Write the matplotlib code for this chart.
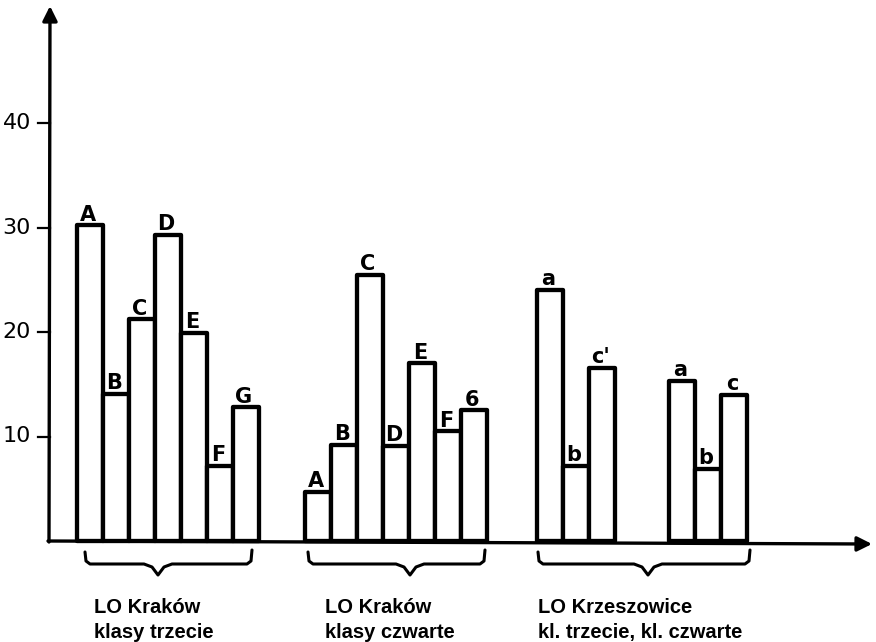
import matplotlib.pyplot as plt
import numpy as np

# wartości słupków
litery_1 = ['A', 'B', 'C', 'D', 'E', 'F', 'G']
krakow_trzecie = [30.2, 14.1, 21.2, 29.3, 19.9, 7.2, 12.8]

litery_2 = ['A', 'B', 'C', 'D', 'E', 'F', '6']
krakow_czwarte = [4.7, 9.2, 25.5, 9.1, 17.0, 10.5, 12.5]

litery_3a = ['a', 'b', "c'"]
krzeszowice_trzecie = [24.0, 7.2, 16.6]
litery_3b = ['a', 'b', 'c']
krzeszowice_czwarte = [15.3, 6.9, 14.0]

podpisy = [('LO Kraków', 'klasy trzecie'),
           ('LO Kraków', 'klasy czwarte'),
           ('LO Krzeszowice', 'kl. trzecie, kl. czwarte')]
yticks = [10, 20, 30, 40]

# geometria rysunku (piksele)
W, H = 876, 642
Y0 = 541          # wiersz piksela dla wartości 0
SKALA = 10.45     # pikseli na jednostkę
SZER = 26         # szerokość słupka

reczne = ['Liberation Sans Narrow', 'DejaVu Sans']


def py2v(py):
    return (Y0 - py) / SKALA


fig = plt.figure(figsize=(W / 100, H / 100), dpi=100)
ax = fig.add_axes([0, 0, 1, 1])
ax.set_xlim(0, W)
ax.set_ylim(py2v(H), py2v(0))
ax.axis('off')

lw_bar = 3.1
grupy = [(77, litery_1, krakow_trzecie),
         (305, litery_2, krakow_czwarte),
         (537, litery_3a, krzeszowice_trzecie),
         (669, litery_3b, krzeszowice_czwarte)]

for start, lit, vals in grupy:
    x = start + SZER * np.arange(len(vals)) + SZER / 2
    ax.bar(x, vals, width=SZER, facecolor='white', edgecolor='black',
           linewidth=lw_bar, joinstyle='round', zorder=2)
    for xi, v, t in zip(x, vals, lit):
        ax.text(xi - 2, v + 0.45, t, ha='center', va='baseline',
                fontsize=15, fontweight='bold', family=reczne)

# osie ze strzałkami
ax.annotate('', xy=(50, py2v(6)), xytext=(49, py2v(Y0 + 1)),
            arrowprops=dict(arrowstyle='-|>', lw=2.4, color='black',
                            mutation_scale=22, shrinkA=0, shrinkB=0),
            zorder=3)
ax.annotate('', xy=(872, py2v(544)), xytext=(48, 0),
            arrowprops=dict(arrowstyle='-|>', lw=2.4, color='black',
                            mutation_scale=22, shrinkA=0, shrinkB=0),
            zorder=3)

for t in yticks:
    ax.plot([38, 50], [t, t], color='black', lw=1.6)
    ax.text(31, t, str(t), ha='right', va='center', fontsize=16,
            family=reczne)


# nawiasy klamrowe
def klamra(x0, x1, xm):
    px = [x0, x0 + 1, x0 + 5, xm - 14, xm - 6, xm, xm + 6, xm + 14,
          x1 - 5, x1 - 1, x1]
    pyy = [552, 561, 564, 564, 567, 575, 567, 564, 564, 561, 550]
    ax.plot(px, [py2v(p) for p in pyy], color='black', lw=2.2,
            solid_joinstyle='round', solid_capstyle='round')


klamra(85, 252, 158)
klamra(308, 485, 410)
klamra(538, 750, 648)

for xt, (l1, l2) in zip([94, 325, 538], podpisy):
    ax.text(xt, py2v(613), l1, ha='left', va='baseline', fontsize=14.5,
            fontweight='bold', family='Liberation Sans')
    ax.text(xt, py2v(638), l2, ha='left', va='baseline', fontsize=14.5,
            fontweight='bold', family='Liberation Sans')

fig.savefig('out.png', dpi=100)
